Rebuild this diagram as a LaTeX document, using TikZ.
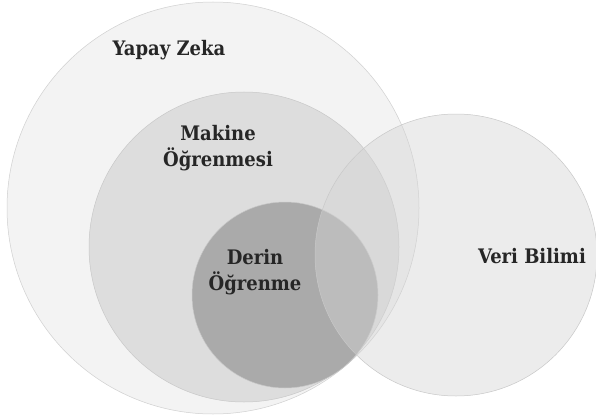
\documentclass[tikz,border=0pt]{standalone}
\usepackage{fontspec}
\setmainfont{DejaVu Serif Condensed}
\definecolor{aifill}{RGB}{243,243,243}
\definecolor{aiedge}{RGB}{208,208,208}
\definecolor{mlfill}{RGB}{221,221,221}
\definecolor{dlfill}{RGB}{170,170,170}
\definecolor{dsfill}{RGB}{212,212,212}
\definecolor{edgelt}{RGB}{200,200,200}
\definecolor{txt}{RGB}{38,38,38}
\tikzset{
  lbl/.style={font=\bfseries\fontsize{20}{26.5}\selectfont, text=txt, align=center, inner sep=0pt},
  setcircle/.style={draw=#1, line width=0.5pt}
}
\begin{document}
\begin{tikzpicture}[x=1pt,y=-1pt]
\useasboundingbox (0,0) rectangle (596,417);
\fill[white] (0,0) rectangle (596,417);
% circles
\filldraw[setcircle=aiedge, fill=aifill] (213,208) circle[radius=206];
\filldraw[setcircle=edgelt, fill=mlfill] (244,247) circle[radius=155];
\filldraw[setcircle=edgelt, fill=dlfill] (285,295) circle[radius=93];
\filldraw[setcircle=edgelt, fill=dsfill, fill opacity=0.44] (456,255) circle[radius=141];
% labels
\node[lbl] (yz) at (169,50) {Yapay Zeka};
\node[lbl] (ml) at (218,148) {Makine\\Öğrenmesi};
\node[lbl] (dl) at (255,272) {Derin\\Öğrenme};
\node[lbl] (ds) at (532,256) {Veri Bilimi};
\end{tikzpicture}
\end{document}
